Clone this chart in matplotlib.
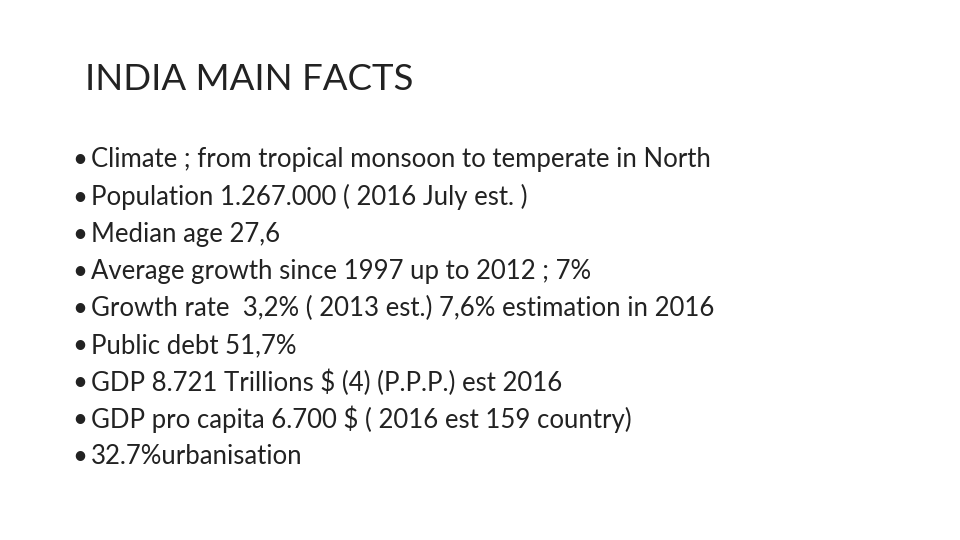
import matplotlib
matplotlib.use("Agg")
import matplotlib.pyplot as plt

title = "INDIA MAIN FACTS"
bullets = [
    "Climate ; from tropical monsoon to temperate in North",
    "Population 1.267.000 ( 2016 July est. )",
    "Median age 27,6",
    "Average growth since 1997 up to 2012 ; 7%",
    "Growth rate  3,2% ( 2013 est.) 7,6% estimation in 2016",
    "Public debt 51,7%",
    "GDP 8.721 Trillions $ (4) (P.P.P.) est 2016",
    "GDP pro capita 6.700 $ ( 2016 est 159 country)",
    "32.7%urbanisation",
]

fig = plt.figure(figsize=(9.6, 5.4), dpi=100)
fig.patch.set_facecolor("white")
W, H = 960, 540
fig.text(85 / W, 1 - 80 / H, title, fontsize=26.4, family="Lato", color="#222222", va="center", ha="left")
for i, b in enumerate(bullets):
    y = 160 + i * 37.1
    fig.text(72 / W, 1 - y / H, "•", fontsize=18.5, family="Lato", color="#222222", va="center", ha="left")
    fig.text(91 / W, 1 - y / H, b, fontsize=18.5, family="Lato", color="#222222", va="center", ha="left")
fig.savefig("out.png", dpi=100)
